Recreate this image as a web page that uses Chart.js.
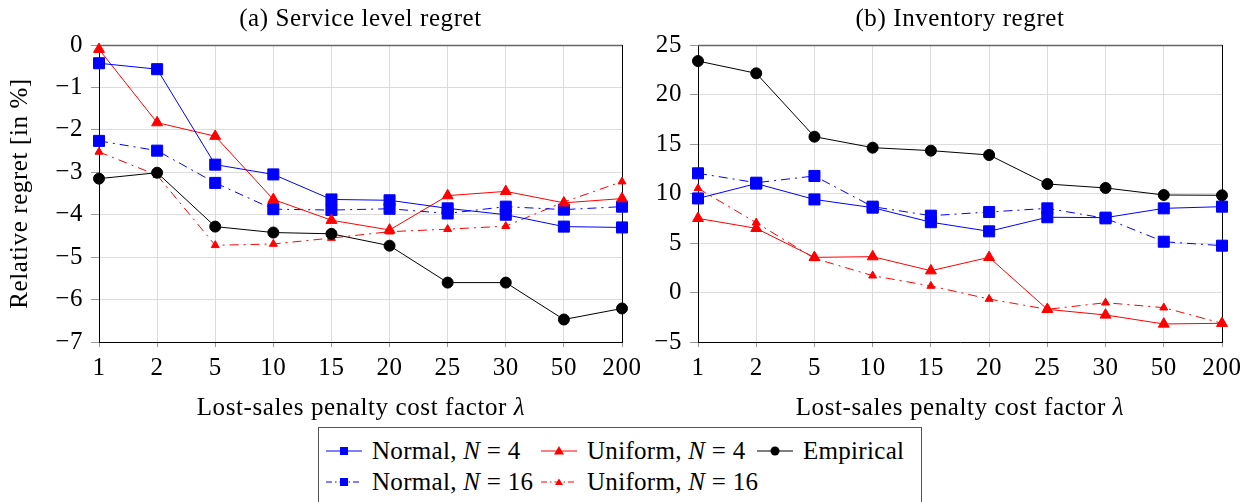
<!DOCTYPE html>
<html>
<head>
<meta charset="utf-8">
<script src="https://cdn.jsdelivr.net/npm/chart.js@4/dist/chart.umd.min.js"></script>
<style>
  html, body { margin: 0; padding: 0; background: #fff; }
  body { width: 1252px; height: 502px; overflow: hidden; position: relative;
         font-family: "Liberation Serif", "Times New Roman", serif; color: #000; }
  canvas { position: absolute; top: 0; }
  #c1 { left: 0; }
  #c2 { left: 630px; }
  .xtitle { position: absolute; top: 392px; font-size: 25px; line-height: 30px; letter-spacing: 0.6px;
            white-space: nowrap; transform: translateX(-50%); }
  #legend { position: absolute; left: 318px; top: 427px; width: 604px; height: 90px;
            border: 1px solid #555; box-sizing: border-box; background: #fff; }
  .item { position: absolute; height: 28px; display: flex; align-items: center;
          font-size: 25px; line-height: 28px; letter-spacing: 0.3px; white-space: nowrap; }
  .item svg { margin-right: 10px; }
</style>
</head>
<body>
<canvas id="c1" width="650" height="425"></canvas>
<canvas id="c2" width="622" height="425"></canvas>
<div class="xtitle" style="left:361px">Lost-sales penalty cost factor <i>λ</i></div>
<div class="xtitle" style="left:960px">Lost-sales penalty cost factor <i>λ</i></div>

<div id="legend">
  <div class="item" style="left:7px; top:9px">
    <svg width="36" height="20"><line x1="0" y1="10" x2="36" y2="10" stroke="#00f" stroke-width="1"/><rect x="14" y="6" width="8" height="8" fill="#00f"/></svg>
    <span>Normal, <i>N</i> = 4</span>
  </div>
  <div class="item" style="left:222px; top:9px">
    <svg width="36" height="20"><line x1="0" y1="10" x2="36" y2="10" stroke="#f00" stroke-width="1"/><polygon points="18,5 23,13.5 13,13.5" fill="#f00"/></svg>
    <span>Uniform, <i>N</i> = 4</span>
  </div>
  <div class="item" style="left:438px; top:9px">
    <svg width="36" height="20"><line x1="0" y1="10" x2="36" y2="10" stroke="#000" stroke-width="1"/><circle cx="18" cy="10" r="4.5" fill="#000"/></svg>
    <span>Empirical</span>
  </div>
  <div class="item" style="left:7px; top:40px">
    <svg width="36" height="20"><line x1="0" y1="10" x2="36" y2="10" stroke="#00f" stroke-width="1" stroke-dasharray="6,3,1.5,3"/><rect x="14" y="6" width="8" height="8" fill="#00f"/></svg>
    <span>Normal, <i>N</i> = 16</span>
  </div>
  <div class="item" style="left:222px; top:40px">
    <svg width="36" height="20"><line x1="0" y1="10" x2="36" y2="10" stroke="#f00" stroke-width="1" stroke-dasharray="6,3,1.5,3"/><polygon points="18,6.5 22,13 14,13" fill="#f00"/></svg>
    <span>Uniform, <i>N</i> = 16</span>
  </div>
</div>

<script>
// Lost-sales penalty cost factors (x categories)
const categories = ['1', '2', '5', '10', '15', '20', '25', '30', '50', '200'];

// (a) Service level regret, in %
const serviceNormal4   = [-0.43, -0.57, -2.82, -3.05, -3.64, -3.66, -3.85, -4.00, -4.28, -4.30];
const serviceUniform4  = [-0.10, -1.83, -2.15, -3.64, -4.13, -4.36, -3.55, -3.45, -3.72, -3.62];
const serviceEmpirical = [-3.15, -3.01, -4.28, -4.42, -4.45, -4.73, -5.60, -5.60, -6.47, -6.21];
const serviceNormal16  = [-2.26, -2.49, -3.25, -3.87, -3.89, -3.86, -3.97, -3.81, -3.88, -3.81];
const serviceUniform16 = [-2.52, -3.07, -4.72, -4.69, -4.55, -4.40, -4.34, -4.27, -3.70, -3.22];

// (b) Inventory regret, in %
const inventoryNormal4   = [9.50, 11.00, 9.40, 8.57, 7.10, 6.18, 7.60, 7.56, 8.50, 8.67];
const inventoryUniform4  = [7.49, 6.48, 3.55, 3.62, 2.20, 3.55, -1.70, -2.27, -3.18, -3.11];
const inventoryEmpirical = [23.38, 22.14, 15.74, 14.63, 14.33, 13.89, 10.96, 10.56, 9.85, 9.82];
const inventoryNormal16  = [12.04, 11.09, 11.77, 8.67, 7.76, 8.13, 8.50, 7.49, 5.13, 4.73];
const inventoryUniform16 = [10.52, 7.05, 3.45, 1.70, 0.66, -0.66, -1.70, -1.03, -1.53, -3.11];

// Axis settings
const serviceTicks   = { min: -7, max: 0, step: 1 };
const inventoryTicks = { min: -5, max: 25, step: 5 };

const FONT = '"Liberation Serif", "Times New Roman", serif';
const FONT_SIZE = 25;
const BLUE = '#0000ff', RED = '#ff0000', BLACK = '#000000';
const DASHDOT = [9, 5, 2, 5];

function series(label, data, color, pointStyle, radius, dashed) {
  return {
    label, data,
    borderColor: color, backgroundColor: color,
    pointBackgroundColor: color, pointBorderColor: color,
    borderWidth: 1, pointBorderWidth: 1,
    pointStyle, pointRadius: radius, pointHoverRadius: radius,
    borderDash: dashed ? DASHDOT : [],
    tension: 0, fill: false, clip: false
  };
}

function minusLabel(v) {
  return v < 0 ? '\u2212' + Math.abs(v) : String(v);
}

// Slightly looser letter spacing for all canvas text
const spacing = {
  id: 'spacing',
  beforeLayout(chart) { chart.ctx.letterSpacing = '0.6px'; },
  beforeDraw(chart) { chart.ctx.letterSpacing = '0.6px'; }
};

// Closes the plot box: grey top edge, black right edge
const frame = {
  id: 'frame',
  beforeDatasetsDraw(chart) {
    const { ctx, chartArea: a } = chart;
    ctx.save();
    ctx.lineWidth = 1.5;
    ctx.strokeStyle = '#666';
    ctx.beginPath();
    ctx.moveTo(a.left, a.top + 0.5);
    ctx.lineTo(a.right, a.top + 0.5);
    ctx.stroke();
    ctx.lineWidth = 1;
    ctx.strokeStyle = '#000';
    ctx.beginPath();
    ctx.moveTo(Math.round(a.right) + 0.5, a.top);
    ctx.lineTo(Math.round(a.right) + 0.5, a.bottom);
    ctx.stroke();
    ctx.restore();
  }
};

function makeChart(canvasId, title, sets, ticks, yTitle, yWidth, padRight) {
  const ctx = document.getElementById(canvasId);
  return new Chart(ctx, {
    type: 'line',
    data: { labels: categories, datasets: sets },
    plugins: [spacing, frame],
    options: {
      responsive: false,
      animation: false,
      devicePixelRatio: 1,
      layout: { padding: { left: 0, right: padRight, top: 0, bottom: 0 } },
      plugins: {
        legend: { display: false },
        tooltip: { enabled: false },
        title: {
          display: true, text: title, color: '#000', fullSize: false,
          font: { family: FONT, size: FONT_SIZE, weight: 'normal' },
          padding: { top: 4, bottom: 11 }
        }
      },
      scales: {
        x: {
          type: 'category',
          offset: false,
          afterFit(scale) { scale.height = 83; },
          grid: { color: '#dcdcdc', lineWidth: 1, tickLength: 5, tickColor: '#999' },
          border: { color: '#000', width: 1 },
          ticks: { color: '#000', font: { family: FONT, size: FONT_SIZE }, padding: 6,
                   maxRotation: 0, autoSkip: false }
        },
        y: {
          min: ticks.min, max: ticks.max,
          afterFit(scale) { scale.width = yWidth; },
          grid: { color: '#dcdcdc', lineWidth: 1, tickLength: 8, tickColor: '#999' },
          border: { color: '#000', width: 1 },
          ticks: { stepSize: ticks.step, color: '#000', padding: 8,
                   font: { family: FONT, size: FONT_SIZE }, callback: minusLabel },
          title: {
            display: !!yTitle, text: yTitle || '', color: '#000',
            font: { family: FONT, size: FONT_SIZE, weight: 'normal' },
            padding: { top: 5, bottom: 0 }
          }
        }
      }
    }
  });
}

makeChart('c1', '(a) Service level regret', [
  series('Normal, N = 4', serviceNormal4, BLUE, 'rect', 7.8, false),
  series('Uniform, N = 4', serviceUniform4, RED, 'triangle', 6.3, false),
  series('Empirical', serviceEmpirical, BLACK, 'circle', 5.5, false),
  series('Normal, N = 16', serviceNormal16, BLUE, 'rect', 7.8, true),
  series('Uniform, N = 16', serviceUniform16, RED, 'triangle', 4.6, true)
], serviceTicks, 'Relative regret [in %]', 99, 28);

makeChart('c2', '(b) Inventory regret', [
  series('Normal, N = 4', inventoryNormal4, BLUE, 'rect', 7.8, false),
  series('Uniform, N = 4', inventoryUniform4, RED, 'triangle', 6.3, false),
  series('Empirical', inventoryEmpirical, BLACK, 'circle', 5.5, false),
  series('Normal, N = 16', inventoryNormal16, BLUE, 'rect', 7.8, true),
  series('Uniform, N = 16', inventoryUniform16, RED, 'triangle', 4.6, true)
], inventoryTicks, null, 68, 30);
</script>
</body>
</html>
